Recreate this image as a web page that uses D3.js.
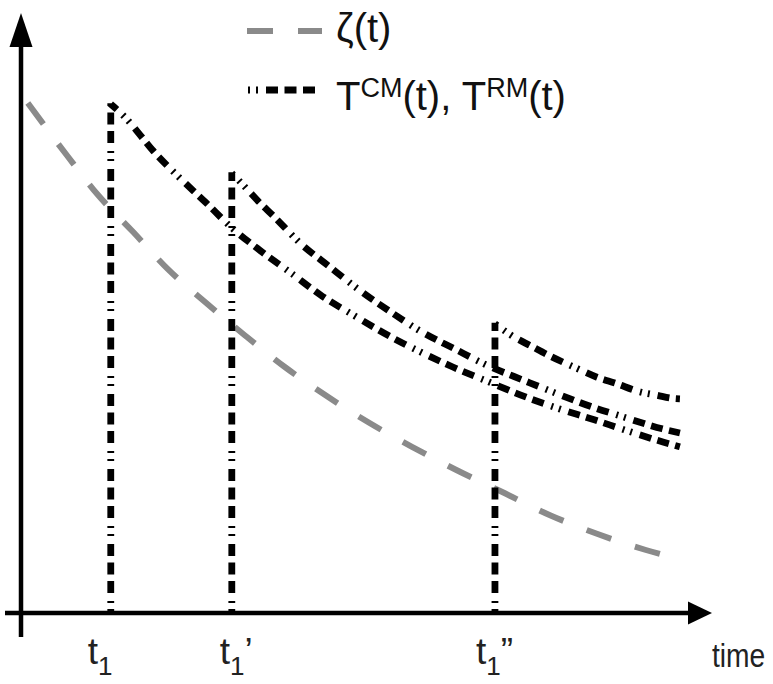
<!DOCTYPE html>
<html><head><meta charset="utf-8">
<script src="https://cdn.jsdelivr.net/npm/d3@7/dist/d3.min.js"></script>
<style>body{margin:0;background:#fff}svg{display:block}</style>
</head><body>
<svg id="chart" width="773" height="684"></svg>
<script>
// ---- data (time units 0..10, value units 0..10) ----
const zetaTime  = [0.10,0.68,1.13,1.65,2.16,2.72,3.29,3.88,4.49,5.12,5.75,6.41,7.07,7.78,8.47,9.19,9.44];
const zetaValue = [8.50,7.62,6.97,6.35,5.73,5.17,4.63,4.10,3.62,3.17,2.77,2.38,2.02,1.63,1.32,1.05,0.97];

const eventTimes  = [1.32, 3.10, 6.97];
const eventLabels = ["t", "t", "t"];
const eventSubs   = ["1", "1", "1"];
const eventMarks  = ["", "\u2019", "\u201D"];

const t1Time  = [1.32,1.54,1.75,1.93,2.29,2.71,3.10,3.53,3.99,4.43,4.88,5.41,5.84,6.35,6.84,7.47,7.87,8.43,8.88,9.44,9.69];
const t1Value = [8.48,8.25,7.97,7.72,7.30,6.85,6.42,6.03,5.65,5.28,4.97,4.62,4.37,4.10,3.87,3.58,3.42,3.22,3.05,2.85,2.77];

const t2Time  = [3.10,3.32,3.50,3.71,4.10,4.54,4.99,5.46,5.87,6.38,6.85,7.41,7.85,8.41,8.85,9.43,9.69];
const t2Value = [7.33,7.07,6.85,6.62,6.17,5.77,5.37,5.00,4.70,4.40,4.13,3.87,3.67,3.43,3.27,3.07,3.00];

const t3Time  = [6.97,7.25,7.50,7.75,8.19,8.47,8.74,9.12,9.35,9.57,9.69];
const t3Value = [4.82,4.60,4.45,4.30,4.07,3.93,3.83,3.68,3.63,3.58,3.57];

const axisTitle = "time";
const legendLabels = ["\u03B6(t)", "T^CM(t), T^RM(t)"];

// ---- drawing ----
const svg = d3.select("#chart");
const x = d3.scaleLinear().domain([0, 10]).range([21, 701]);
const y = d3.scaleLinear().domain([0, 10]).range([613, 13]);

const zip = (a, b) => a.map((v, i) => [v, b[i]]);
const line = d3.line().x(d => x(d[0])).y(d => y(d[1])).curve(d3.curveMonotoneX);

const BLACK_DASH = "2,6,2,8,12,6.5,12,6.5,12,8";
const labelDx = [-23, -12, -19];

// axes
const axisG = svg.append("g");
axisG.append("line")
  .attr("x1", x(0)).attr("x2", x(0))
  .attr("y1", y(0) + 24).attr("y2", y(10) + 30)
  .attr("stroke", "#000").attr("stroke-width", 4.5);
axisG.append("path")
  .attr("d", `M${x(0)},${y(10)}L${x(0) - 11.5},${y(10) + 34}L${x(0) + 11.5},${y(10) + 34}Z`)
  .attr("fill", "#000");
axisG.append("line")
  .attr("x1", x(0) - 16).attr("x2", x(10) - 8)
  .attr("y1", y(0)).attr("y2", y(0))
  .attr("stroke", "#000").attr("stroke-width", 4.5);
axisG.append("path")
  .attr("d", `M${x(10) + 11},${y(0)}L${x(10) - 13},${y(0) - 11.5}L${x(10) - 13},${y(0) + 11.5}Z`)
  .attr("fill", "#000");

// zeta curve
svg.append("path")
  .attr("d", line(zip(zetaTime, zetaValue)))
  .attr("fill", "none").attr("stroke", "#8a8a8a").attr("stroke-width", 6)
  .attr("stroke-dasharray", "26,25");

// T curves with vertical jumps
[[t1Time, t1Value], [t2Time, t2Value], [t3Time, t3Value]].forEach(([tt, vv]) => {
  const pts = zip(tt, vv);
  const d = `M${x(tt[0])},${y(0)}L${x(tt[0])},${y(vv[0]) - 1}L` + line(pts).slice(1);
  svg.append("path")
    .attr("d", d)
    .attr("fill", "none").attr("stroke", "#000").attr("stroke-width", 6.8)
    .attr("stroke-dasharray", BLACK_DASH)
    .attr("stroke-dashoffset", -2);
});

// event labels
const lab = svg.append("g")
  .attr("font-family", "'Liberation Sans', Arial, sans-serif")
  .attr("fill", "#222");
eventTimes.forEach((t, i) => {
  const txt = lab.append("text")
    .attr("x", x(t) + labelDx[i]).attr("y", 664)
    .attr("font-size", 37);
  txt.append("tspan").text(eventLabels[i]);
  txt.append("tspan").attr("font-size", 26).attr("dy", 11).text(eventSubs[i]);
  txt.append("tspan").attr("dy", -11).text(eventMarks[i]);
});
lab.append("g")
  .attr("transform", `translate(${x(10) + 11},667) scale(0.83,1)`)
  .append("text").attr("x", 0).attr("y", 0)
  .attr("font-size", 34).text(axisTitle);

// legend
const leg = svg.append("g")
  .attr("font-family", "'Liberation Sans', Arial, sans-serif")
  .attr("fill", "#111");
leg.append("line").attr("x1", 247).attr("x2", 322).attr("y1", 31).attr("y2", 31)
  .attr("stroke", "#8a8a8a").attr("stroke-width", 6).attr("stroke-dasharray", "26,25");
leg.append("text").attr("x", 336).attr("y", 42).attr("font-size", 40).text(legendLabels[0]);
leg.append("line").attr("x1", 248).attr("x2", 320).attr("y1", 90).attr("y2", 90)
  .attr("stroke", "#000").attr("stroke-width", 6.8).attr("stroke-dasharray", BLACK_DASH);
const l2 = leg.append("text").attr("x", 336).attr("y", 97).attr("font-size", 40);
legendLabels[1].split(/(\^[A-Z]+)/).forEach(part => {
  if (part.startsWith("^")) {
    l2.append("tspan").attr("font-size", 27).attr("dy", -13).text(part.slice(1));
  } else if (part) {
    l2.append("tspan").attr("dy", l2.selectAll("tspan").size() ? 13 : 0).text(part);
  }
});
</script>
</body></html>
